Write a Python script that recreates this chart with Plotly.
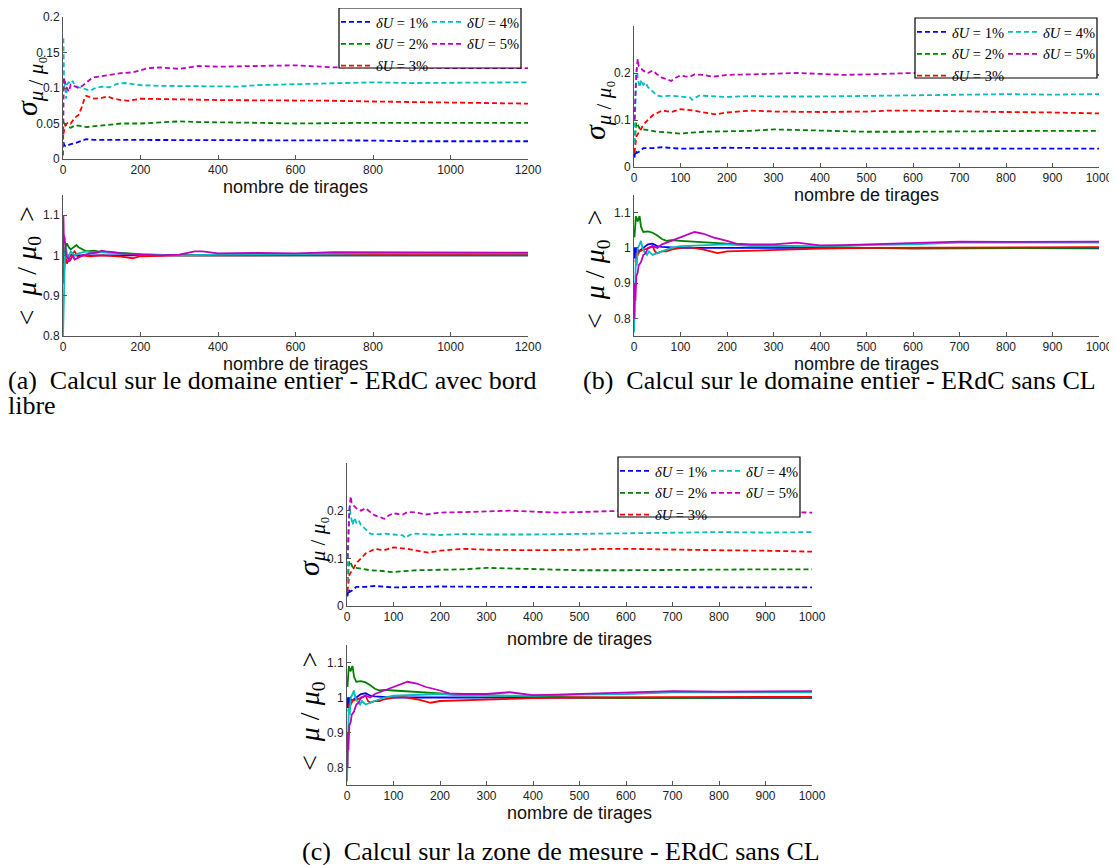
import plotly.graph_objects as go

# page has an 8px body margin: the figure is sized to fill the rest of the 1117x865 window
OFF = 8
W, H = 1117 - OFF, 865 - OFF

LABELS = ["<i>δU</i> = 1%", "<i>δU</i> = 2%", "<i>δU</i> = 3%", "<i>δU</i> = 4%", "<i>δU</i> = 5%"]
COLORS = ["#0000FF", "#008000", "#FF0000", "#00BFBF", "#BF00BF"]

# ---------------- Panel (a): whole domain, free edge (x: 0..1200) ----------------
A_SIG_X1 = [1, 3, 6, 10, 20, 30, 45, 60, 80, 100, 150, 200, 300, 400, 500, 600, 700, 800, 900, 1000, 1100, 1200]
A_SIG_Y1 = [0.024, 0.020, 0.018, 0.019, 0.021, 0.022, 0.025, 0.028, 0.027, 0.027, 0.026, 0.026, 0.026, 0.026, 0.026, 0.026, 0.026, 0.026, 0.025, 0.025, 0.025, 0.025]
A_SIG_X2 = [1, 3, 6, 10, 15, 20, 30, 40, 60, 80, 100, 150, 200, 250, 300, 350, 400, 500, 600, 700, 800, 900, 1000, 1100, 1200]
A_SIG_Y2 = [0.052, 0.050, 0.048, 0.046, 0.045, 0.044, 0.047, 0.047, 0.045, 0.046, 0.048, 0.050, 0.050, 0.052, 0.053, 0.052, 0.052, 0.051, 0.050, 0.051, 0.051, 0.051, 0.051, 0.051, 0.051]
A_SIG_X3 = [1, 3, 6, 10, 15, 20, 25, 30, 40, 50, 55, 60, 80, 100, 115, 130, 150, 170, 200, 250, 300, 400, 500, 600, 700, 800, 900, 1000, 1100, 1200]
A_SIG_Y3 = [0.035, 0.040, 0.048, 0.050, 0.052, 0.050, 0.055, 0.058, 0.062, 0.075, 0.085, 0.089, 0.085, 0.086, 0.088, 0.085, 0.083, 0.082, 0.085, 0.085, 0.084, 0.083, 0.083, 0.082, 0.082, 0.081, 0.080, 0.079, 0.079, 0.078]
A_SIG_X4 = [1, 2, 3, 5, 8, 10, 15, 20, 25, 30, 40, 50, 60, 70, 80, 100, 120, 140, 160, 200, 250, 300, 400, 450, 500, 600, 700, 800, 900, 1000, 1100, 1200]
A_SIG_Y4 = [0.170, 0.140, 0.100, 0.110, 0.085, 0.105, 0.108, 0.106, 0.110, 0.104, 0.101, 0.100, 0.098, 0.096, 0.099, 0.102, 0.101, 0.106, 0.107, 0.104, 0.103, 0.103, 0.103, 0.102, 0.104, 0.105, 0.107, 0.108, 0.107, 0.107, 0.108, 0.108]
A_SIG_X5 = [0, 1, 2, 4, 6, 10, 15, 20, 30, 40, 50, 60, 70, 80, 100, 120, 150, 180, 200, 220, 250, 300, 350, 400, 500, 600, 700, 800, 850, 900, 1000, 1100, 1200]
A_SIG_Y5 = [0.005, 0.090, 0.115, 0.110, 0.105, 0.100, 0.095, 0.105, 0.102, 0.100, 0.103, 0.108, 0.112, 0.115, 0.117, 0.118, 0.121, 0.122, 0.125, 0.128, 0.129, 0.127, 0.131, 0.130, 0.131, 0.132, 0.129, 0.129, 0.130, 0.129, 0.128, 0.128, 0.128]

A_MEAN_X1 = [1, 3, 6, 10, 20, 40, 60, 100, 150, 200, 300, 400, 600, 800, 1000, 1200]
A_MEAN_Y1 = [0.99, 1.0, 0.995, 1.0, 1.0, 1.0, 1.0, 1.0, 1.0, 1.0, 1.0, 1.0, 1.0, 1.0, 1.0, 1.0]
A_MEAN_X2 = [1, 2, 4, 6, 10, 15, 20, 30, 35, 40, 50, 60, 80, 100, 150, 200, 300, 400, 500, 600, 800, 1000, 1200]
A_MEAN_Y2 = [0.96, 0.95, 1.0, 1.02, 1.03, 1.02, 1.015, 1.022, 1.026, 1.02, 1.015, 1.01, 1.012, 1.008, 1.006, 1.003, 1.0, 1.0, 1.0, 0.999, 0.999, 1.0, 1.0]
A_MEAN_X3 = [1, 2, 4, 6, 10, 15, 20, 30, 40, 50, 70, 100, 150, 180, 200, 250, 300, 400, 600, 800, 1000, 1200]
A_MEAN_Y3 = [0.93, 0.96, 0.98, 1.0, 0.98, 0.99, 1.0, 1.01, 0.995, 1.0, 0.998, 1.0, 0.997, 0.993, 0.998, 0.999, 1.0, 1.0, 1.001, 1.003, 1.004, 1.004]
A_MEAN_X4 = [0, 1, 2, 3, 5, 8, 12, 20, 30, 40, 60, 80, 100, 150, 200, 300, 400, 600, 800, 1000, 1200]
A_MEAN_Y4 = [0.80, 0.85, 0.92, 0.96, 1.0, 1.02, 0.99, 1.01, 1.0, 1.005, 1.01, 1.005, 1.008, 1.005, 1.002, 1.0, 1.002, 1.003, 1.005, 1.005, 1.005]
A_MEAN_X5 = [0, 1, 2, 4, 6, 8, 12, 16, 20, 25, 30, 40, 50, 70, 90, 100, 110, 130, 150, 200, 250, 300, 340, 360, 400, 500, 550, 600, 700, 800, 900, 1000, 1100, 1200]
A_MEAN_Y5 = [0.98, 1.10, 1.05, 1.045, 1.02, 1.0, 0.995, 0.985, 0.99, 1.0, 0.99, 0.995, 1.0, 1.005, 1.008, 1.012, 1.01, 1.008, 1.005, 1.002, 1.0, 1.002, 1.01, 1.01, 1.005, 1.006, 1.005, 1.005, 1.008, 1.008, 1.008, 1.007, 1.007, 1.007]

# ------------- Panels (b) and (c): no boundary condition (x: 0..1000) -------------
# (the two panels show the same curves)
B_SIG_X1 = [1, 3, 6, 10, 20, 40, 60, 80, 100, 150, 200, 300, 400, 500, 600, 700, 800, 900, 1000]
B_SIG_Y1 = [0.020, 0.035, 0.030, 0.032, 0.040, 0.040, 0.042, 0.041, 0.039, 0.040, 0.041, 0.040, 0.040, 0.039, 0.039, 0.039, 0.039, 0.039, 0.039]
B_SIG_X2 = [1, 3, 5, 8, 12, 20, 30, 40, 50, 70, 90, 100, 120, 150, 200, 250, 300, 400, 500, 600, 700, 800, 900, 1000]
B_SIG_Y2 = [0.050, 0.080, 0.095, 0.090, 0.082, 0.080, 0.078, 0.077, 0.075, 0.074, 0.071, 0.071, 0.073, 0.075, 0.076, 0.077, 0.080, 0.078, 0.075, 0.075, 0.076, 0.077, 0.077, 0.077]
B_SIG_X3 = [1, 3, 5, 8, 12, 20, 30, 40, 50, 60, 80, 100, 110, 130, 150, 175, 200, 250, 300, 400, 500, 550, 600, 700, 800, 900, 1000]
B_SIG_Y3 = [0.030, 0.050, 0.065, 0.070, 0.075, 0.090, 0.100, 0.110, 0.115, 0.120, 0.117, 0.123, 0.122, 0.120, 0.116, 0.112, 0.116, 0.120, 0.118, 0.117, 0.118, 0.120, 0.120, 0.118, 0.117, 0.116, 0.114]
B_SIG_X4 = [1, 2, 4, 6, 8, 12, 16, 20, 25, 30, 40, 50, 60, 80, 100, 120, 125, 140, 160, 200, 250, 300, 400, 500, 600, 700, 800, 900, 1000]
B_SIG_Y4 = [0.050, 0.120, 0.180, 0.210, 0.190, 0.170, 0.185, 0.175, 0.180, 0.170, 0.160, 0.152, 0.150, 0.152, 0.150, 0.148, 0.143, 0.152, 0.151, 0.149, 0.151, 0.150, 0.150, 0.151, 0.152, 0.153, 0.155, 0.154, 0.155]
B_SIG_X5 = [1, 3, 5, 8, 10, 15, 20, 30, 40, 50, 60, 70, 80, 90, 100, 110, 120, 130, 150, 170, 200, 250, 300, 350, 400, 450, 500, 600, 700, 800, 900, 1000]
B_SIG_Y5 = [0.100, 0.160, 0.200, 0.230, 0.215, 0.210, 0.205, 0.200, 0.205, 0.197, 0.190, 0.187, 0.183, 0.190, 0.195, 0.193, 0.192, 0.197, 0.196, 0.192, 0.196, 0.197, 0.199, 0.200, 0.198, 0.196, 0.197, 0.200, 0.197, 0.196, 0.197, 0.196]

B_MEAN_X1 = [1, 2, 4, 6, 10, 20, 30, 40, 50, 60, 80, 100, 200, 300, 400, 600, 800, 1000]
B_MEAN_Y1 = [0.97, 1.0, 0.97, 1.0, 0.99, 1.0, 1.01, 1.012, 1.005, 1.003, 1.002, 1.0, 1.0, 1.0, 1.0, 1.0, 1.0, 0.999]
B_MEAN_X2 = [1, 2, 4, 6, 8, 10, 12, 15, 20, 30, 40, 50, 60, 70, 80, 100, 150, 200, 250, 300, 400, 500, 600, 700, 800, 900, 1000]
B_MEAN_Y2 = [1.03, 1.06, 1.09, 1.08, 1.075, 1.085, 1.09, 1.06, 1.045, 1.047, 1.043, 1.035, 1.025, 1.02, 1.022, 1.02, 1.015, 1.012, 1.008, 1.006, 1.003, 1.0, 0.998, 0.999, 1.0, 1.0, 1.0]
B_MEAN_X3 = [3, 5, 8, 12, 20, 30, 40, 45, 50, 60, 70, 80, 100, 120, 150, 180, 200, 250, 300, 400, 500, 600, 700, 800, 900, 1000]
B_MEAN_Y3 = [0.96, 0.985, 0.98, 0.99, 0.995, 0.998, 1.005, 0.99, 0.985, 0.99, 0.99, 0.995, 1.0, 1.002, 0.995, 0.985, 0.99, 0.992, 0.995, 0.998, 1.0, 1.0, 1.001, 1.002, 1.002, 1.002]
B_MEAN_X4 = [0, 1, 2, 4, 6, 8, 12, 15, 18, 22, 28, 32, 40, 50, 60, 80, 100, 150, 200, 250, 300, 400, 500, 600, 700, 800, 900, 1000]
B_MEAN_Y4 = [0.76, 0.80, 0.90, 0.97, 0.95, 1.0, 1.01, 1.02, 1.0, 0.99, 0.98, 0.99, 0.98, 0.985, 0.99, 1.0, 1.005, 1.008, 1.01, 1.005, 1.005, 1.005, 1.008, 1.01, 1.015, 1.015, 1.015, 1.015]
B_MEAN_X5 = [1, 2, 3, 5, 8, 10, 15, 20, 25, 30, 40, 50, 60, 80, 100, 120, 130, 150, 170, 200, 220, 250, 300, 350, 400, 450, 500, 550, 600, 650, 700, 800, 900, 1000]
B_MEAN_Y5 = [0.80, 0.90, 0.85, 0.92, 0.93, 0.95, 0.96, 0.98, 0.985, 1.0, 1.005, 1.0, 1.01, 1.02, 1.03, 1.04, 1.045, 1.04, 1.03, 1.02, 1.012, 1.01, 1.01, 1.015, 1.007, 1.008, 1.01, 1.012, 1.012, 1.015, 1.018, 1.017, 1.017, 1.018]

A_SIG_TICKS = [0, 0.05, 0.1, 0.15, 0.2]
B_SIG_TICKS = [0, 0.1, 0.2]
MEAN_TICKS = [0.8, 0.9, 1, 1.1]

A_SIG = list(zip([A_SIG_X1, A_SIG_X2, A_SIG_X3, A_SIG_X4, A_SIG_X5], [A_SIG_Y1, A_SIG_Y2, A_SIG_Y3, A_SIG_Y4, A_SIG_Y5]))
A_MEAN = list(zip([A_MEAN_X1, A_MEAN_X2, A_MEAN_X3, A_MEAN_X4, A_MEAN_X5], [A_MEAN_Y1, A_MEAN_Y2, A_MEAN_Y3, A_MEAN_Y4, A_MEAN_Y5]))
B_SIG = list(zip([B_SIG_X1, B_SIG_X2, B_SIG_X3, B_SIG_X4, B_SIG_X5], [B_SIG_Y1, B_SIG_Y2, B_SIG_Y3, B_SIG_Y4, B_SIG_Y5]))
B_MEAN = list(zip([B_MEAN_X1, B_MEAN_X2, B_MEAN_X3, B_MEAN_X4, B_MEAN_X5], [B_MEAN_Y1, B_MEAN_Y2, B_MEAN_Y3, B_MEAN_Y4, B_MEAN_Y5]))

CAPTION_A1 = "(a)&nbsp; Calcul sur le domaine entier - ERdC avec bord"
CAPTION_A2 = "libre"
CAPTION_B = "(b)&nbsp; Calcul sur le domaine entier - ERdC sans CL"
CAPTION_C = "(c)&nbsp; Calcul sur la zone de mesure - ERdC sans CL"
XTITLE = "nombre de tirages"
YTITLE_SIG = "<i>σ</i><sub><i>μ</i> / <i>μ</i>₀</sub>"
YTITLE_MEAN = "&lt;&nbsp; <i>μ</i> / <i>μ</i><sub>0</sub> &nbsp;&gt;"


# screen-pixel helpers (coordinates measured on the 1117x865 page)
def xd(l, r):
    return [(l - OFF) / W, (r - OFF) / W]


def yd(t, b):
    return [1 - (b - OFF) / H, 1 - (t - OFF) / H]


def px(x):
    return (x - OFF) / W


def py(y):
    return 1 - (y - OFF) / H


fig = go.Figure()

PANELS = [
    dict(sig=A_SIG, mean=A_MEAN, xr=[0, 1200], dt=200, ysr=[0, 0.2], yst=A_SIG_TICKS, ymr=[0.8, 1.15],
         left=63, right=528, top1=17, bot1=159, top2=195, bot2=336, st1=1, st2=0,
         leg=("legend", "legend2"), legx=(336, 427), legy=6, box=(339, 8, 521, 68),
         ylab_x=9, ylab_anchor="left", ylab_y1=86, ylab_y2=266),
    dict(sig=B_SIG, mean=B_MEAN, xr=[0, 1000], dt=100, ysr=[0, 0.3], yst=B_SIG_TICKS, ymr=[0.75, 1.15],
         left=634, right=1099, top1=26, bot1=167, top2=195, bot2=336, st1=1, st2=0,
         leg=("legend3", "legend4"), legx=(912, 1003), legy=16, box=(915, 18, 1097, 78),
         ylab_x=597, ylab_anchor="center", ylab_y1=110, ylab_y2=270),
    dict(sig=B_SIG, mean=B_MEAN, xr=[0, 1000], dt=100, ysr=[0, 0.3], yst=B_SIG_TICKS, ymr=[0.75, 1.15],
         left=347, right=812, top1=463, bot1=606, top2=645, bot2=785, st1=8, st2=0,
         leg=("legend5", "legend6"), legx=(615, 706), legy=455, box=(618, 457, 800, 517),
         ylab_x=311, ylab_anchor="center", ylab_y1=546, ylab_y2=712),
]

axis_common = dict(showline=True, linecolor="#555", linewidth=1, ticks="inside", ticklen=4,
                   tickcolor="#555", showgrid=False, zeroline=False, mirror=False, automargin=False,
                   tickfont=dict(family="Liberation Sans", size=12, color="#222"))

layout = dict(width=W, height=H, margin=dict(l=0, r=0, t=0, b=0, autoexpand=False),
              paper_bgcolor="white", plot_bgcolor="white", showlegend=True)
annotations = []
shapes = []
legend_rank = {0: 1, 1: 2, 2: 3, 3: 1, 4: 2}

for p_i, P in enumerate(PANELS):
    ia = 2 * p_i + 1
    ib = 2 * p_i + 2
    xa_top = "x" if ia == 1 else f"x{ia}"
    ya_top = "y" if ia == 1 else f"y{ia}"
    xa_bot = f"x{ib}"
    ya_bot = f"y{ib}"
    kx_top = "xaxis" if ia == 1 else f"xaxis{ia}"
    ky_top = "yaxis" if ia == 1 else f"yaxis{ia}"
    kx_bot = f"xaxis{ib}"
    ky_bot = f"yaxis{ib}"

    for s in range(5):
        xs, ys = P["sig"][s]
        fig.add_trace(go.Scatter(
            x=xs, y=ys, mode="lines", name=LABELS[s], xaxis=xa_top, yaxis=ya_top,
            line=dict(color=COLORS[s], width=1.8, dash="5px,3px"),
            legend=P["leg"][0] if s < 3 else P["leg"][1], legendrank=legend_rank[s],
            showlegend=True, hoverinfo="skip"))
    for s in range(5):
        xs, ys = P["mean"][s]
        fig.add_trace(go.Scatter(
            x=xs, y=ys, mode="lines", name=LABELS[s], xaxis=xa_bot, yaxis=ya_bot,
            line=dict(color=COLORS[s], width=1.8), showlegend=False, hoverinfo="skip"))

    xtitle_font = dict(family="Liberation Sans", size=18, color="#111")
    layout[kx_top] = dict(axis_common, domain=xd(P["left"], P["right"]), range=P["xr"], dtick=P["dt"],
                          tick0=0, anchor=ya_top,
                          title=dict(text=XTITLE, font=xtitle_font, standoff=P["st1"]))
    layout[ky_top] = dict(axis_common, domain=yd(P["top1"], P["bot1"]), range=P["ysr"],
                          tickmode="array", tickvals=P["yst"], anchor=xa_top)
    layout[kx_bot] = dict(axis_common, domain=xd(P["left"], P["right"]), range=P["xr"], dtick=P["dt"],
                          tick0=0, anchor=ya_bot,
                          title=dict(text=XTITLE, font=xtitle_font, standoff=P["st2"]))
    layout[ky_bot] = dict(axis_common, domain=yd(P["top2"], P["bot2"]), range=P["ymr"],
                          tickmode="array", tickvals=MEAN_TICKS, anchor=xa_bot)

    for j, lname in enumerate(P["leg"]):
        layout[lname] = dict(x=px(P["legx"][j]), y=py(P["legy"]), xanchor="left", yanchor="top",
                             orientation="v", bgcolor="rgba(0,0,0,0)", borderwidth=0,
                             font=dict(family="Liberation Serif", size=14.5, color="black"),
                             itemwidth=30, tracegroupgap=0)
    bx = P["box"]
    shapes.append(dict(type="rect", xref="paper", yref="paper", x0=px(bx[0]), x1=px(bx[2]),
                       y0=py(bx[3]), y1=py(bx[1]), line=dict(color="black", width=1.2),
                       fillcolor="white", layer="above"))

    annotations.append(dict(text=YTITLE_SIG, x=px(P["ylab_x"]), y=py(P["ylab_y1"]), xref="paper",
                            yref="paper", showarrow=False, textangle=-90, xanchor=P["ylab_anchor"],
                            yanchor="middle", borderpad=0,
                            font=dict(family="Liberation Serif", size=30, color="black")))
    annotations.append(dict(text=YTITLE_MEAN, x=px(P["ylab_x"]), y=py(P["ylab_y2"]), xref="paper",
                            yref="paper", showarrow=False, textangle=-90, xanchor=P["ylab_anchor"],
                            yanchor="middle", borderpad=0,
                            font=dict(family="Liberation Serif", size=28, color="black")))

cap_font = dict(family="Liberation Serif", size=26, color="black")
annotations += [
    dict(text=CAPTION_A1, x=px(6), y=py(380), xref="paper", yref="paper", showarrow=False,
         xanchor="left", yanchor="middle", font=cap_font),
    dict(text=CAPTION_A2, x=px(6), y=py(405), xref="paper", yref="paper", showarrow=False,
         xanchor="left", yanchor="middle", font=cap_font),
    dict(text=CAPTION_B, x=px(581), y=py(380), xref="paper", yref="paper", showarrow=False,
         xanchor="left", yanchor="middle", font=cap_font),
    dict(text=CAPTION_C, x=px(561), y=py(851), xref="paper", yref="paper", showarrow=False,
         xanchor="center", yanchor="middle", font=cap_font),
]

layout["annotations"] = annotations
layout["shapes"] = shapes
fig.update_layout(**layout)
fig.write_html("out.html")
